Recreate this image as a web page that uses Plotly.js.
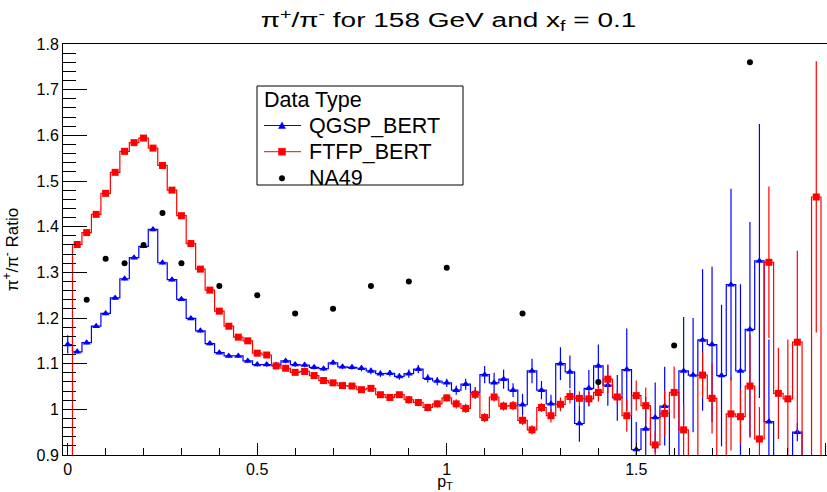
<!DOCTYPE html>
<html>
<head>
<meta charset="utf-8">
<script src="https://cdn.plot.ly/plotly-3.0.1.min.js"></script>
<style>html,body{margin:0;padding:0;background:#fff;}#chart{width:827px;height:492px;}</style>
</head>
<body>
<div id="chart"></div>
<script>
// bin centres (pT), 81 bins of width 0.025
const binCenters = [0,0.025,0.05,0.075,0.1,0.125,0.15,0.175,0.2,0.225,0.25,0.275,0.3,0.325,0.35,0.375,0.4,0.425,0.45,0.475,
0.5,0.525,0.55,0.575,0.6,0.625,0.65,0.675,0.7,0.725,0.75,0.775,0.8,0.825,0.85,0.875,0.9,0.925,0.95,0.975,
1.0,1.025,1.05,1.075,1.1,1.125,1.15,1.175,1.2,1.225,1.25,1.275,1.3,1.325,1.35,1.375,1.4,1.425,1.45,1.475,
1.5,1.525,1.55,1.575,1.6,1.625,1.65,1.675,1.7,1.725,1.75,1.775,1.8,1.825,1.85,1.875,1.9,1.925,1.95,1.975,2.0];

const qgspRatio = [1.142,1.126,1.146,1.182,1.210,1.244,1.286,1.332,1.357,1.394,
1.321,1.284,1.241,1.199,1.172,1.144,1.124,1.117,1.117,1.106,
1.098,1.098,1.097,1.106,1.098,1.097,1.092,1.089,1.102,1.093,
1.092,1.090,1.084,1.078,1.079,1.072,1.078,1.088,1.068,1.062,
1.058,1.042,1.055,1.036,1.076,1.058,1.066,1.042,1.010,1.084,
1.042,1.012,1.100,1.082,0.969,1.046,1.095,1.053,1.025,1.087,
0.912,0.957,0.982,1.007,0,1.084,1.075,1.152,1.142,1.074,
1.273,1.084,1.175,1.325,0.973,0,0,0.950,0,0,0];

const qgspErr = [0.02,0.004,0.004,0.004,0.004,0.004,0.004,0.004,0.004,0.004,
0.004,0.004,0.004,0.004,0.004,0.004,0.004,0.004,0.004,0.004,
0.004,0.005,0.005,0.005,0.005,0.005,0.005,0.005,0.005,0.005,
0.005,0.007,0.007,0.007,0.007,0.007,0.009,0.009,0.009,0.009,
0.009,0.010,0.012,0.013,0.019,0.022,0.021,0.015,0.024,0.027,
0.020,0.020,0.036,0.036,0.040,0.040,0.047,0.045,0.050,0.090,
0.060,0.070,0.077,0.086,0,0.118,0.125,0.155,0.170,0.155,
0.210,0.190,0.235,0.300,0.180,0,0,0.020,0,0,0];

const ftfpRatio = [0,1.361,1.387,1.427,1.473,1.519,1.565,1.584,1.594,1.572,
1.534,1.480,1.424,1.363,1.307,1.261,1.215,1.182,1.158,1.150,
1.123,1.119,1.095,1.090,1.081,1.083,1.074,1.063,1.058,1.052,
1.051,1.043,1.046,1.032,1.026,1.032,1.021,1.015,1.004,1.012,
1.025,1.012,1.002,1.033,0.982,1.027,1.007,1.008,0.976,0.955,
1.004,0.986,1.011,1.028,1.024,1.023,1.037,1.066,1.027,0.986,
1.030,1.008,0.922,0.991,1.037,0.955,0,1.075,1.024,0,
0.990,0.984,1.051,0.935,1.322,1.035,1.023,1.147,0,1.465,0];

const ftfpErr = [0,0.004,0.004,0.004,0.004,0.004,0.004,0.004,0.004,0.004,
0.004,0.004,0.004,0.004,0.004,0.004,0.004,0.004,0.004,0.004,
0.004,0.006,0.006,0.006,0.006,0.006,0.006,0.006,0.006,0.006,
0.006,0.006,0.006,0.006,0.006,0.006,0.008,0.008,0.008,0.008,
0.008,0.010,0.010,0.010,0.010,0.010,0.010,0.010,0.010,0.010,
0.010,0.015,0.015,0.015,0.015,0.015,0.020,0.031,0.016,0.035,
0.033,0.040,0.030,0.050,0.057,0.055,0,0.050,0.077,0,
0.080,0.060,0.113,0.070,0.166,0.100,0.130,0.200,0,0.297,0];

const na49Pt = [0.05,0.1,0.15,0.2,0.25,0.3,0.4,0.5,0.6,0.7,0.8,0.9,1.0,1.2,1.4,1.6,1.8];
const na49Ratio = [1.24,1.33,1.32,1.36,1.43,1.32,1.27,1.25,1.21,1.22,1.27,1.28,1.31,1.21,1.06,1.14,1.76];

const seriesNames = ['QGSP_BERT','FTFP_BERT','NA49'];
const legendTitle = 'Data Type';
const titleText = 'π<sup>+</sup>/π<sup>-</sup> for 158 GeV and x<sub>f</sub> = 0.1';
const xTitle = 'p<sub>T</sub>';
const yTitle = 'π<sup>+</sup>/π<sup>-</sup> Ratio';
const xTickVals = [0, 0.5, 1, 1.5, 2];
const xTickText = ['0','0.5','1','1.5','2'];

const FONT = 'Liberation Sans, Arial, Helvetica, sans-serif';
const BLUE = '#0000ff', RED = '#ff0000', BLACK = '#000000';

// plot-area geometry (pixels) used to place the hand-drawn legend box
const W = 827, H = 492, ML = 63, MR = 0, MT = 44, MB = 37;
const PW = W - ML - MR, PH = H - MT - MB;
const px = v => (v - ML) / PW;
const py = v => (H - MB - v) / PH;

const traces = [
  {
    x: binCenters, y: qgspRatio, name: seriesNames[0], type: 'scatter', mode: 'lines+markers', showlegend: false,
    line: {shape: 'hvh', color: BLUE, width: 1.2},
    marker: {symbol: 'triangle-up', size: 7, color: BLUE},
    error_y: {type: 'data', array: qgspErr, visible: true, color: BLUE, thickness: 1.2, width: 0}
  },
  {
    x: binCenters, y: ftfpRatio, name: seriesNames[1], type: 'scatter', mode: 'lines+markers', showlegend: false,
    line: {shape: 'hvh', color: RED, width: 1.2},
    marker: {symbol: 'square', size: 7, color: RED},
    error_y: {type: 'data', array: ftfpErr, visible: true, color: RED, thickness: 1.2, width: 0}
  },
  {
    x: na49Pt, y: na49Ratio, name: seriesNames[2], type: 'scatter', mode: 'markers', showlegend: false,
    marker: {symbol: 'circle', size: 6, color: BLACK}
  }
];

// legend box (drawn by hand to match the ROOT TLegend layout)
const LB = {x0: 257, x1: 463, y0: 86, y1: 185};
const rowsY = [125.5, 151.7, 178.3];
const symX0 = 264, symX1 = 301, symC = 282, textX = 307;
const shapes = [
  {type: 'rect', xref: 'paper', yref: 'paper', x0: px(LB.x0), x1: px(LB.x1), y0: py(LB.y1), y1: py(LB.y0),
   line: {color: BLACK, width: 1}, fillcolor: '#ffffff', layer: 'above'},
  {type: 'line', xref: 'paper', yref: 'paper', x0: px(symX0), x1: px(symX1), y0: py(rowsY[0]), y1: py(rowsY[0]),
   line: {color: BLUE, width: 1}, layer: 'above'},
  {type: 'path', xref: 'paper', yref: 'paper', layer: 'above', fillcolor: BLUE, line: {color: BLUE, width: 0.5},
   path: `M ${px(symC-3.5)} ${py(rowsY[0]+3)} L ${px(symC+3.5)} ${py(rowsY[0]+3)} L ${px(symC)} ${py(rowsY[0]-3.5)} Z`},
  {type: 'line', xref: 'paper', yref: 'paper', x0: px(symX0), x1: px(symX1), y0: py(rowsY[1]), y1: py(rowsY[1]),
   line: {color: RED, width: 1}, layer: 'above'},
  {type: 'rect', xref: 'paper', yref: 'paper', x0: px(symC-3.5), x1: px(symC+3.5), y0: py(rowsY[1]+3.5), y1: py(rowsY[1]-3.5),
   fillcolor: RED, line: {color: RED, width: 0.5}, layer: 'above'},
  {type: 'circle', xref: 'paper', yref: 'paper', x0: px(symC-2.8), x1: px(symC+2.8), y0: py(rowsY[2]+2.8), y1: py(rowsY[2]-2.8),
   fillcolor: BLACK, line: {color: BLACK, width: 0.5}, layer: 'above'}
];
const annotations = [
  {text: legendTitle, xref: 'paper', yref: 'paper', x: px(262), y: py(100), xanchor: 'left', yanchor: 'middle', showarrow: false,
   font: {family: FONT, size: 21.5, color: BLACK}},
  ...seriesNames.map((n, i) => ({text: n, xref: 'paper', yref: 'paper', x: px(textX), y: py(rowsY[i]), xanchor: 'left', yanchor: 'middle',
   showarrow: false, font: {family: FONT, size: 21.5, color: BLACK}}))
];

const layout = {
  width: W, height: H,
  margin: {l: ML, r: MR, t: MT, b: MB},
  paper_bgcolor: '#ffffff', plot_bgcolor: '#ffffff',
  font: {family: FONT, color: BLACK, size: 16},
  title: {text: titleText, font: {family: FONT, size: 20, color: BLACK}, x: 448.5 / W, xanchor: 'center', y: 1 - 20 / H, yanchor: 'middle'},
  xaxis: {
    range: [-0.0125, 2.0033], tickvals: xTickVals, ticktext: xTickText,
    ticks: 'inside', ticklen: 12, tickcolor: BLACK, tickwidth: 1,
    minor: {dtick: 0.1, tick0: 0, ticks: 'inside', ticklen: 7, tickcolor: BLACK, showgrid: false},
    showgrid: false, zeroline: false, showline: true, mirror: true, linecolor: BLACK, linewidth: 1,
    tickfont: {size: 16, family: FONT},
    title: {text: xTitle, font: {size: 16, family: FONT}, standoff: 5}
  },
  yaxis: {
    range: [0.9, 1.8], tick0: 0.9, dtick: 0.1,
    ticks: 'inside', ticklen: 24, tickcolor: BLACK, tickwidth: 1,
    minor: {dtick: 0.02, tick0: 0.9, ticks: 'inside', ticklen: 13, tickcolor: BLACK, showgrid: false},
    showgrid: false, zeroline: false, showline: true, mirror: false, linecolor: BLACK, linewidth: 1,
    tickfont: {size: 16, family: FONT},
    title: {text: yTitle, font: {size: 17, family: FONT}, standoff: 15}
  },
  showlegend: false,
  shapes: shapes,
  annotations: annotations
};

Plotly.newPlot('chart', traces, layout, {displayModeBar: false, staticPlot: true}).then(gd => {
  // ROOT's title is rendered horizontally stretched; widen it around its centre
  const t = gd.querySelector('.gtitle');
  if (t) {
    const cx = parseFloat(t.getAttribute('x'));
    t.setAttribute('transform', `translate(${cx},0) scale(1.4,1) translate(${-cx},0)`);
  }
});
</script>
</body>
</html>
